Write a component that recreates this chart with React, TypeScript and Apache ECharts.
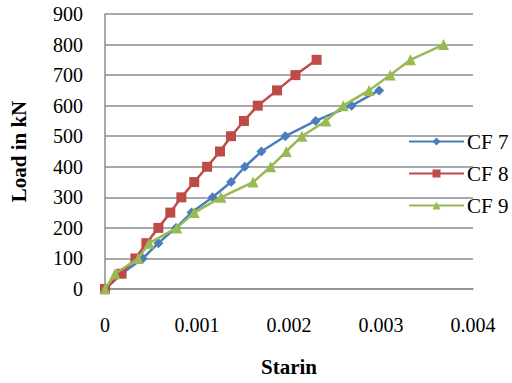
import React, { useEffect, useRef } from "react";
import * as echarts from "echarts";

const seriesNames = ["CF 7", "CF 8", "CF 9"];

const loads7 = [0, 50, 100, 150, 200, 250, 300, 350, 400, 450, 500, 550, 600, 650];
const strain7 = [0, 0.00018, 0.00041, 0.00058, 0.00077, 0.00094, 0.00117, 0.00137, 0.00152, 0.0017, 0.00196, 0.00229, 0.00268, 0.00298];

const loads8 = [0, 50, 100, 150, 200, 250, 300, 350, 400, 450, 500, 550, 600, 650, 700, 750];
const strain8 = [0, 0.00018, 0.00033, 0.00045, 0.00058, 0.00071, 0.00083, 0.00097, 0.00111, 0.00125, 0.00137, 0.00151, 0.00166, 0.00187, 0.00207, 0.0023];

const loads9 = [0, 50, 100, 150, 200, 250, 300, 350, 400, 450, 500, 550, 600, 650, 700, 750, 800];
const strain9 = [0, 0.00011, 0.00036, 0.00048, 0.00078, 0.00097, 0.00126, 0.00161, 0.0018, 0.00197, 0.00214, 0.0024, 0.00259, 0.00287, 0.0031, 0.00332, 0.00368];

const xTitle = "Starin";
const yTitle = "Load in kN";

const FONT = "Liberation Serif";

function pairs(xs: number[], ys: number[]) {
  return xs.map((x, i) => [x, ys[i]]);
}

export default function App() {
  const ref = useRef<HTMLDivElement>(null);
  useEffect(() => {
    document.body.style.margin = "0";
    if (!ref.current) return;
    const chart = echarts.init(ref.current, null, { renderer: "svg" });
    const colors = ["#4A7EBB", "#BE4B48", "#98B954"];
    const symbols = ["diamond", "rect", "triangle"];
    const sizes = [10, 10, 11];
    const datas = [pairs(strain7, loads7), pairs(strain8, loads8), pairs(strain9, loads9)];
    chart.setOption({
      animation: false,
      backgroundColor: "#ffffff",
      textStyle: { fontFamily: FONT, color: "#000" },
      grid: { left: 105, right: 39, top: 14, bottom: 94, containLabel: false },
      legend: {
        orient: "vertical",
        left: 408,
        top: 131,
        padding: 0,
        itemWidth: 55,
        itemHeight: 10,
        itemGap: 11,
        textStyle: { fontFamily: FONT, fontSize: 21, color: "#000", padding: [0, 0, 0, -2] },
        data: seriesNames,
      },
      xAxis: {
        type: "value",
        min: 0,
        max: 0.004,
        interval: 0.001,
        name: xTitle,
        nameLocation: "middle",
        nameGap: 67,
        nameTextStyle: { fontFamily: FONT, fontSize: 21, fontWeight: "bold", color: "#000" },
        axisLine: { show: true, lineStyle: { color: "#8c8c8c", width: 1.5 } },
        axisTick: { show: false },
        splitLine: { show: false },
        axisLabel: {
          margin: 26,
          fontFamily: FONT,
          fontSize: 20,
          color: "#000",
          formatter: (v: number) => (v === 0 ? "0" : v.toFixed(3)),
        },
      },
      yAxis: {
        type: "value",
        min: 0,
        max: 900,
        interval: 100,
        name: yTitle,
        nameLocation: "middle",
        nameGap: 76,
        nameTextStyle: { fontFamily: FONT, fontSize: 21, fontWeight: "bold", color: "#000" },
        axisLine: { show: true, lineStyle: { color: "#8c8c8c", width: 1.5 } },
        axisTick: { show: false },
        splitLine: { show: true, lineStyle: { color: "#8c8c8c", width: 1.5 } },
        axisLabel: { margin: 22, fontFamily: FONT, fontSize: 20, color: "#000" },
      },
      series: seriesNames.map((name, i) => ({
        name,
        type: "line",
        data: datas[i],
        symbol: symbols[i],
        symbolSize: sizes[i],
        showSymbol: true,
        lineStyle: { color: colors[i], width: 2.5 },
        itemStyle: { color: colors[i] },
        z: 2 + i,
      })),
    });
    return () => chart.dispose();
  }, []);
  return <div ref={ref} style={{ width: 512, height: 383 }} />;
}
